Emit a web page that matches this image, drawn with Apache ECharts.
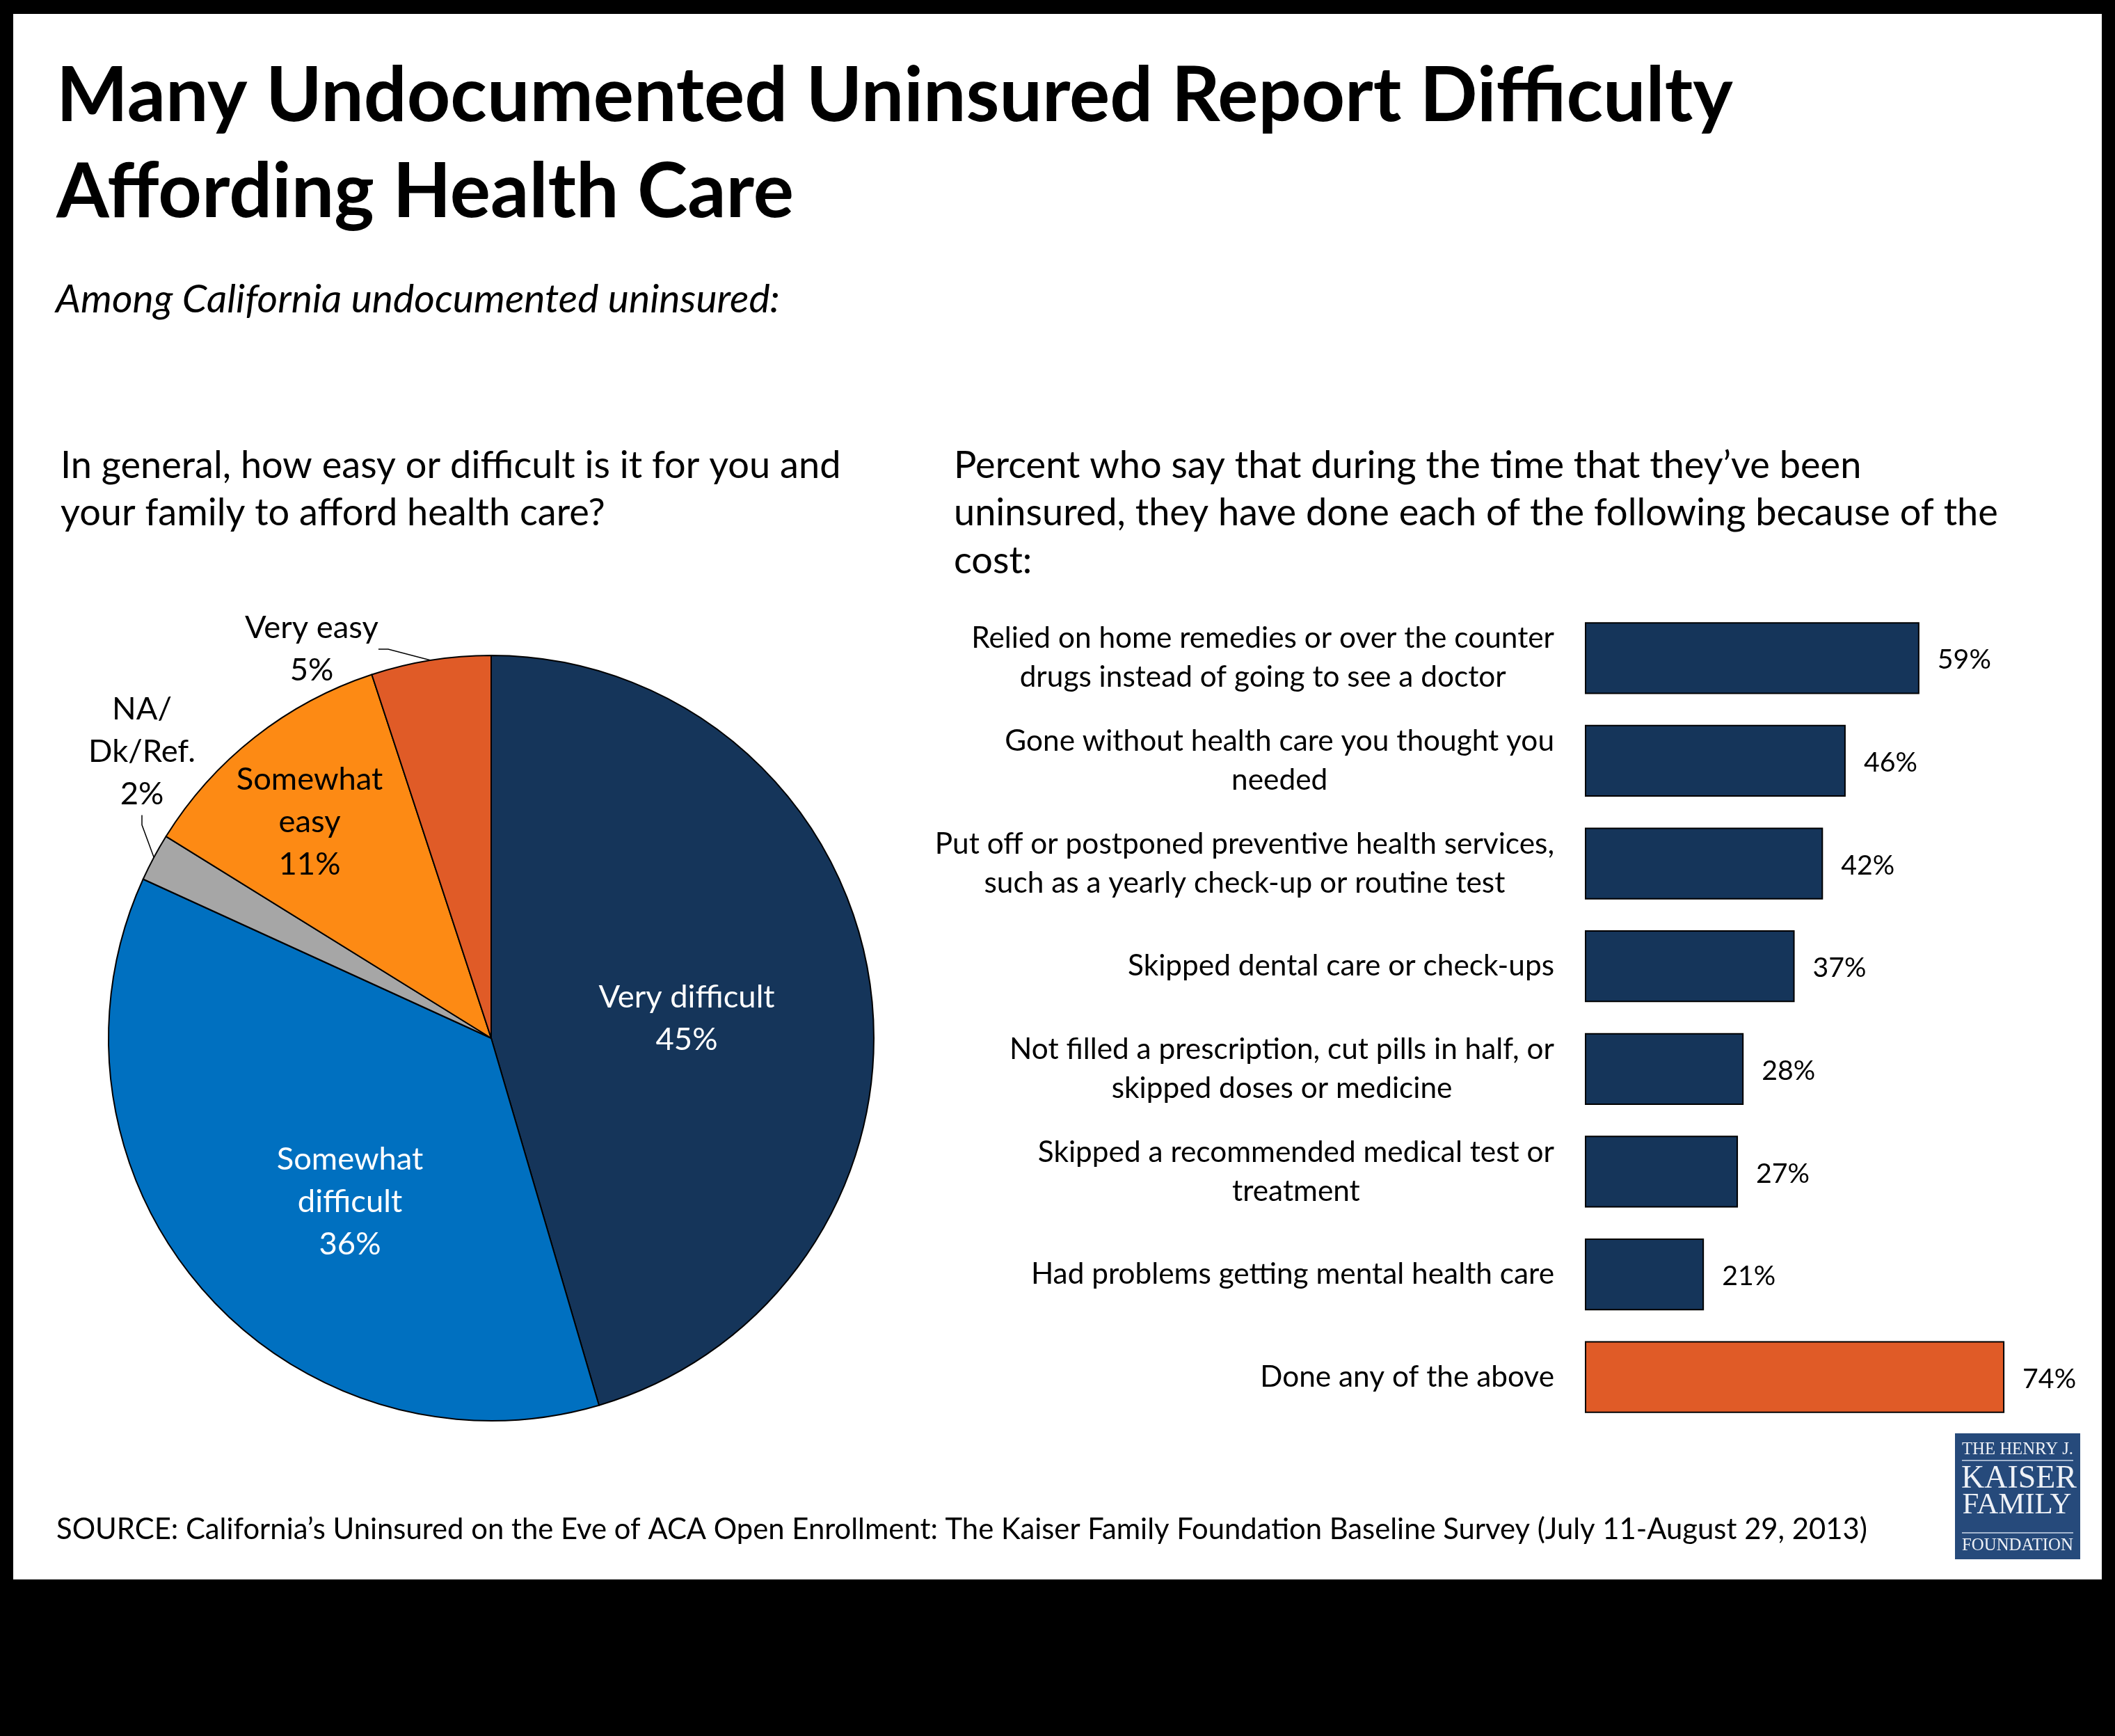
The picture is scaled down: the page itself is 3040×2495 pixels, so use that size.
<!DOCTYPE html>
<html><head><meta charset="utf-8">
<script src="https://cdn.jsdelivr.net/npm/echarts@6/dist/echarts.min.js"></script>
<style>html,body{margin:0;padding:0;background:#000;} #c{width:3040px;height:2495px;}</style>
</head><body><div id="c"></div>
<script>
// ---------- data ----------
const titleLines = ['Many Undocumented Uninsured Report Difficulty', 'Affording Health Care'];
const subtitle = 'Among California undocumented uninsured:';
const leftQuestion = ['In general, how easy or difficult is it for you and', 'your family to afford health care?'];
const rightQuestion = ['Percent who say that during the time that they\u2019ve been', 'uninsured, they have done each of the following because of the', 'cost:'];
const sourceNote = 'SOURCE: California\u2019s Uninsured on the Eve of ACA Open Enrollment: The Kaiser Family Foundation Baseline Survey (July 11-August 29, 2013)';

const pieCategories = ['Very difficult', 'Somewhat difficult', 'NA/Dk/Ref.', 'Somewhat easy', 'Very easy'];
const pieLabelText = ['Very difficult', 'Somewhat\ndifficult', 'NA/\nDk/Ref.', 'Somewhat\neasy', 'Very easy'];
const pieValues = [45, 36, 2, 11, 5];

const barCategories = [
  'Relied on home remedies or over the counter\ndrugs instead of going to see a doctor',
  'Gone without health care you thought you\nneeded',
  'Put off or postponed preventive health services,\nsuch as a yearly check-up or routine test',
  'Skipped dental care or check-ups',
  'Not filled a prescription, cut pills in half, or\nskipped doses or medicine',
  'Skipped a recommended medical test or\ntreatment',
  'Had problems getting mental health care',
  'Done any of the above'
];
const barValues = [59, 46, 42, 37, 28, 27, 21, 74];

// ---------- styles ----------
const NAVY = '#15355A', BLUE = '#0070C0', GRAY = '#A6A6A6', ORANGE = '#FD8A14', RED = '#E05B27';
const pieColors = [NAVY, BLUE, GRAY, ORANGE, RED];
const pieLabelColors = ['#fff', '#fff', '#000', '#000', '#000'];
const pieLabelPos = [[987, 1464], [503, 1727], [204, 1080], [445, 1181], [448, 933]];
const FAM = 'Lato';

const ctx = document.createElement('canvas').getContext('2d');
function fit(text, target, weight, style, family) {
  ctx.font = (style || 'normal') + ' ' + (weight || '400') + ' 100px ' + (family || FAM);
  return 100 * target / ctx.measureText(text).width;
}
const titleSize = fit(titleLines[0], 2410, '700');
const subSize = fit(subtitle, 1041, '400', 'italic');
const qSize = (fit(leftQuestion[0], 1121) + fit(rightQuestion[1], 1502)) / 2;
const srcSize = fit(sourceNote, 2604);
const catSize = fit('Skipped dental care or check-ups', 613);
const valSize = fit('59%', 77);
const pieSize = (fit('Very difficult', 253) + fit('Somewhat', 211)) / 2;
const SERIF = 'Liberation Serif';

function txt(text, x, y, size, opts) {
  opts = opts || {};
  return {
    type: 'text', x: x, y: y, z: 10,
    style: {
      text: text,
      font: (opts.style || 'normal') + ' ' + (opts.weight || '400') + ' ' + size + 'px ' + (opts.family || FAM),
      fill: opts.fill || '#000',
      align: opts.align || 'left',
      verticalAlign: 'middle'
    }
  };
}

const graphics = [
  { type: 'rect', z: -10, shape: { x: 19, y: 20, width: 3002, height: 2250 }, style: { fill: '#fff' } },
  txt(titleLines[0], 81, 139, titleSize, { weight: '700' }),
  txt(titleLines[1], 81, 277, titleSize, { weight: '700' }),
  txt(subtitle, 80, 431, subSize, { style: 'italic' }),
  txt(leftQuestion[0], 87, 670, qSize),
  txt(leftQuestion[1], 87, 738, qSize),
  txt(rightQuestion[0], 1371, 670, qSize),
  txt(rightQuestion[1], 1371, 738, qSize),
  txt(rightQuestion[2], 1371, 807, qSize),
  txt(sourceNote, 81, 2199, srcSize),
  // logo
  { type: 'rect', z: 10, shape: { x: 2810, y: 2060, width: 180, height: 181 }, style: { fill: '#264A7B' } },
  { type: 'rect', z: 11, shape: { x: 2820, y: 2098, width: 160, height: 2 }, style: { fill: '#A3B5CE' } },
  { type: 'rect', z: 11, shape: { x: 2820, y: 2202, width: 160, height: 2 }, style: { fill: '#A3B5CE' } },
  Object.assign(txt('THE HENRY J.', 2900, 2083, fit('THE HENRY J.', 160, '400', 'normal', SERIF), { family: SERIF, fill: '#EEF1F6', align: 'center' }), { z: 12 }),
  Object.assign(txt('KAISER', 2902, 2126, fit('KAISER', 166, '400', 'normal', SERIF), { family: SERIF, fill: '#EEF1F6', align: 'center' }), { z: 12 }),
  Object.assign(txt('FAMILY', 2899, 2164, fit('FAMILY', 157, '400', 'normal', SERIF), { family: SERIF, fill: '#EEF1F6', align: 'center' }), { z: 12 }),
  Object.assign(txt('FOUNDATION', 2900, 2221, fit('FOUNDATION', 160, '400', 'normal', SERIF), { family: SERIF, fill: '#EEF1F6', align: 'center' }), { z: 12 })
];

const chart = echarts.init(document.getElementById('c'), null, { renderer: 'canvas' });
chart.setOption({
  backgroundColor: '#000',
  animation: false,
  graphic: graphics,
  grid: { left: 2278, top: 872, width: 652, height: 1181, containLabel: false },
  xAxis: { type: 'value', min: 0, max: 80, show: false },
  yAxis: {
    type: 'category', inverse: true, data: barCategories,
    axisLine: { show: false }, axisTick: { show: false }, splitLine: { show: false },
    axisLabel: {
      margin: 44,
      formatter: function (v) { return v.split('\n').map(function (s) { return '{c|' + s + '}'; }).join('\n'); },
      rich: { c: { fontFamily: FAM, fontSize: catSize, lineHeight: 56, color: '#000', align: 'center' } }
    }
  },
  series: [
    {
      type: 'bar', barCategoryGap: '30%',
      itemStyle: { borderColor: '#000', borderWidth: 2 },
      data: barValues.map(function (v, i) { return { value: v, itemStyle: { color: i === barValues.length - 1 ? RED : NAVY } }; }),
      label: {
        show: true, position: 'right', distance: 26, offset: [0, 3],
        formatter: '{c}%', fontFamily: FAM, fontSize: valSize, color: '#000'
      }
    },
    {
      type: 'pie', center: [706, 1492], radius: 550, startAngle: 90, clockwise: true,
      avoidLabelOverlap: false,
      itemStyle: { borderColor: '#000', borderWidth: 2 },
      label: { fontFamily: FAM, fontSize: pieSize, lineHeight: 61 },
      labelLine: { show: false },
      labelLayout: function (p) {
        const pos = pieLabelPos[p.dataIndex];
        return { x: pos[0], y: pos[1], align: 'center', verticalAlign: 'middle' };
      },
      data: pieValues.map(function (v, i) {
        const outside = (i === 2 || i === 4);
        return {
          name: pieCategories[i], value: v,
          itemStyle: { color: pieColors[i] },
          label: {
            show: true, position: outside ? 'outside' : 'inside', color: pieLabelColors[i],
            align: 'center',
            formatter: pieLabelText[i] + '\n' + v + '%'
          },
          labelLine: outside ? { show: true, length: 10, length2: 14, lineStyle: { color: '#000', width: 1.5 } } : { show: false }
        };
      })
    }
  ]
});
</script>
</body></html>
